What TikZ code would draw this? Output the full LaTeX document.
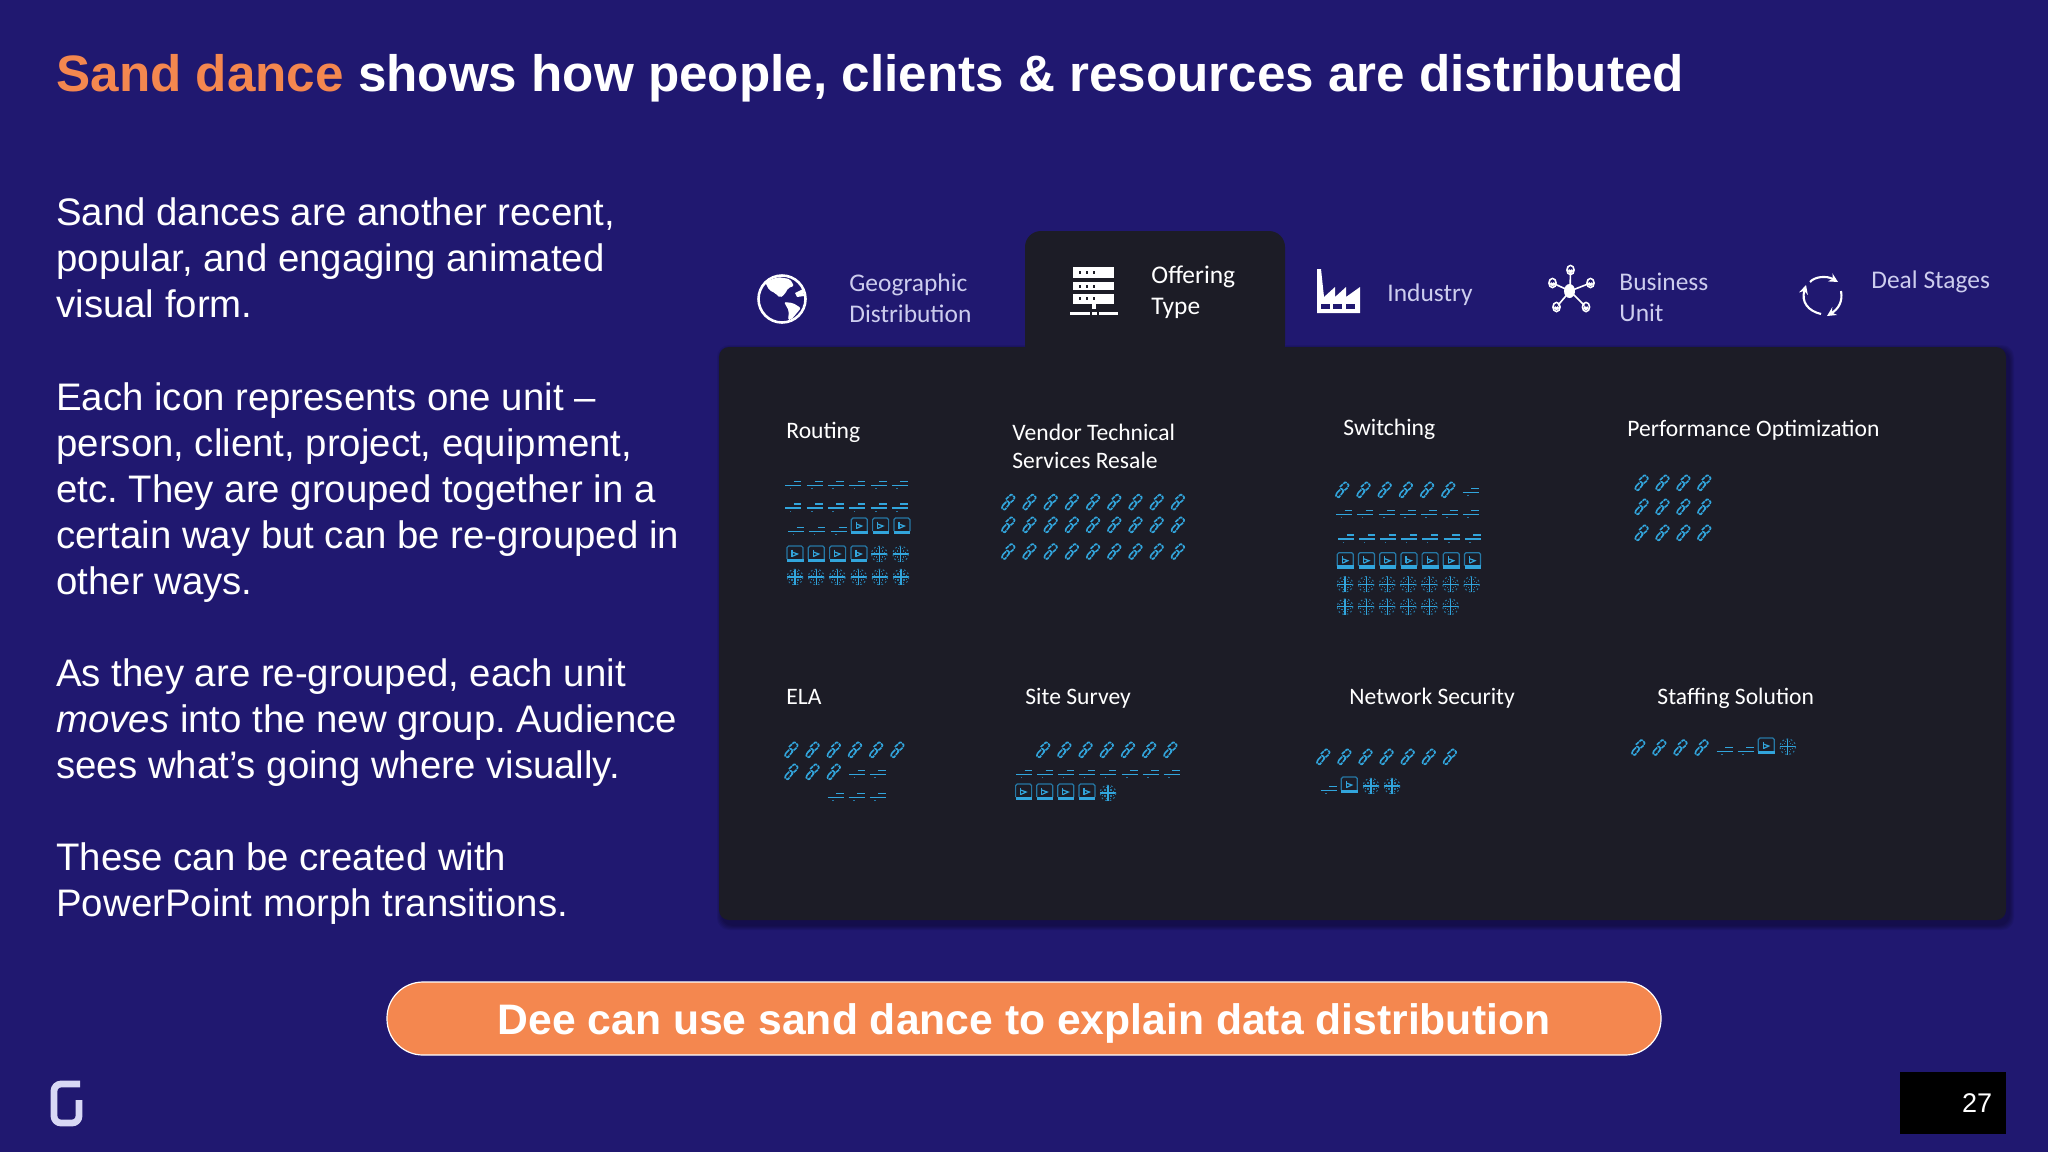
\documentclass[tikz,border=0pt]{standalone}
\usepackage{fontspec}
\setmainfont{Liberation Sans}
\newfontfamily\calib{Carlito}
\usetikzlibrary{arrows.meta}
\definecolor{bgblue}{RGB}{32,24,112}
\definecolor{panelk}{RGB}{28,28,38}
\definecolor{orng}{RGB}{244,135,79}
\definecolor{lav}{RGB}{205,205,238}
\definecolor{logoc}{RGB}{216,216,245}
\definecolor{icb}{RGB}{50,165,220}
\definecolor{icd}{RGB}{38,120,165}
\tikzset{
  x=0.5pt,y=-0.5pt,
  bodytext/.style={anchor=base west,inner sep=0,text=white,align=left,font=\fontsize{19.18}{23}\selectfont},
  tablabel/.style={anchor=base west,inner sep=0,text=lav,align=left,font=\calib\fontsize{12.72}{15.3}\selectfont},
  grouplabel/.style={anchor=base west,inner sep=0,text=white,align=left,font=\calib\fontsize{11.8}{14}\selectfont},
  linkic/.pic={
    \draw[icb,line width=0.8pt,dash pattern=on 2pt off 0.4pt,rounded corners=0.3pt]
      (-5.5,3) -- (-1,-1.5) -- (1.5,1) -- (-3.5,7.5) -- (-6.5,6) -- cycle;
    \draw[icb,line width=0.8pt,dash pattern=on 2pt off 0.4pt,rounded corners=0.3pt]
      (-2.5,-3) -- (3,-8) -- (6.5,-5) -- (5,-2) -- (0,2);
  },
  dashic/.pic={
    \draw[icb,line width=0.75pt] (-8,1.3) -- (8,1.3);
    \draw[icb,line width=0.75pt] (0.5,-2.7) -- (8,-2.7);
    \fill[icd] (-3.5,3.8) rectangle (-2,5.3);
  },
  screenic/.pic={
    \draw[icd,line width=0.6pt,rounded corners=0.8pt] (-8,5) -- (-8,-8) -- (8,-8) -- (8,5);
    \fill[icb] (-8,4.5) rectangle (8.5,8);
    \draw[icb,line width=0.6pt] (-3,-4.5) -- (-3,2.5);
    \draw[icb,line width=0.6pt] (-3,-2) -- (2.5,0) -- (-3,2.5);
  },
  webic/.pic={
    \draw[icb,line width=0.55pt] (0,-8) -- (0,8) (-8,0) -- (8,0);
    \draw[icd,line width=0.5pt,dash pattern=on 0.9pt off 1.3pt] (0,0) circle[radius=7.8];
    \foreach \sx/\sy in {-1/-1,1/-1,-1/1,1/1}{
      \fill[icd] ({\sx*3-0.6},{\sy*3-0.6}) rectangle +(1.2,1.2);
      \fill[icd] ({\sx*5.2-0.5},{\sy*2-0.5}) rectangle +(1,1);
      \fill[icd] ({\sx*2-0.5},{\sy*5.2-0.5}) rectangle +(1,1);
    }
  },
  personic/.pic={
    \draw[white,line width=0.8pt] (0,0) ellipse[x radius=3.6,y radius=4.6];
    \fill[white] (0,1) ellipse[x radius=2.6,y radius=2];
  }
}
% \iconrow{pic}{first x}{pitch}{count}{y}
\newcommand{\iconrow}[5]{%
  \foreach \ii in {1,...,#4}{\pic at ({#2+(\ii-1)*#3},#5) {#1};}%
}
\begin{document}
\frenchspacing
\begin{tikzpicture}
\useasboundingbox (0,0) rectangle (2048,1152);
\fill[bgblue] (0,0) rectangle (2048,1152);

% title
\node[anchor=base west,inner sep=0,font=\fontsize{25.6}{30}\selectfont\bfseries,text=white] (title) at (56,91.5)
  {\textcolor{orng}{Sand dance} shows how people, clients \& resources are distributed};

% left text
\node[bodytext] (para1) at (56,317) {Sand dances are another recent,\\popular, and engaging animated\\visual form.};
\node[bodytext] (para2) at (56,594) {Each icon represents one unit --\\person, client, project, equipment,\\etc. They are grouped together in a\\certain way but can be re-grouped in\\other ways.};
\node[bodytext] (para3) at (56,778) {As they are re-grouped, each unit\\\textit{moves} into the new group. Audience\\sees what’s going where visually.};
\node[bodytext] (para4) at (56,916) {These can be created with\\PowerPoint morph transitions.};

% panel shadow
\foreach \s in {1,...,5}{
  \fill[black,opacity=0.07,rounded corners=6pt] ({719-\s+3},{347-\s+3}) rectangle ({2006+\s+3},{922+\s+3});
}
% panel and active tab
\fill[panelk,rounded corners=5pt] (719,347) rectangle (2006,920);
\fill[panelk,rounded corners=8pt] (1025,360) -- (1025,231) -- (1285,231) -- (1285,360) -- cycle;

% tab labels
\node[tablabel] (tgeo) at (849,322) {Geographic\\Distribution};
\node[tablabel,text=white] (toff) at (1151,314) {Offering\\Type};
\node[tablabel] (tind) at (1387,301) {Industry};
\node[tablabel] (tbus) at (1619,321) {Business\\Unit};
\node[tablabel] (tdeal) at (1871,288) {Deal Stages};

% globe
\begin{scope}[shift={(782,299)}]
  \draw[white,line width=1.3pt] (0,0) circle[radius=23.5];
  \fill[white,rounded corners=1pt] (-17,-17) -- (-4,-22) -- (8,-20) -- (12,-13) -- (6,-11) -- (3,-5) -- (-2,-1) -- (-7,-6) -- (-13,-9) -- cycle;
  \fill[white,rounded corners=1pt] (2,3) -- (11,4) -- (19,9) -- (14,15) -- (9,21) -- (6,21) -- (7,12) -- cycle;
  \fill[white] (13,-6) -- (21,-10) -- (22,-3) -- (15,-2) -- cycle;
\end{scope}

% server
\fill[white] (1073,267) rectangle (1114,278);
\fill[white] (1073,282) rectangle (1114,290);
\fill[white] (1073,294) rectangle (1114,304);
\fill[white] (1092,304) rectangle (1096,309);
\fill[white] (1070,312) rectangle (1090,314.5);
\fill[white] (1092,312) rectangle (1097,314.5);
\fill[white] (1099,312) rectangle (1118,314.5);
\foreach \yy in {272,286,298}{
  \foreach \xx in {1079,1086,1093}{ \fill[panelk] (\xx,\yy-1.5) rectangle +(2,3); }
}

% factory
\fill[white] (1317,313) -- (1317,269) -- (1321,269) -- (1324,297) -- (1335,287) -- (1335,297) -- (1346,287) -- (1346,297) -- (1360,287) -- (1360,313) -- cycle;
\foreach \xx in {1321,1333,1346}{ \fill[bgblue] (\xx,303.5) rectangle +(9,5); }

% business unit
\begin{scope}
  \draw[white,line width=0.8pt] (1570,291) -- (1570.5,270) (1570,291) -- (1552.5,283) (1570,291) -- (1590.5,283) (1570,291) -- (1556.5,307) (1570,291) -- (1586,307);
  \fill[white] (1569.5,291) ellipse[x radius=5.5,y radius=7];
  \foreach \xx/\yy in {1570.5/270,1552.5/283,1590.5/283,1556.5/307,1586/307}{
    \pic at (\xx,\yy) {personic};
    \fill[bgblue] (\xx,\yy-1.7) circle[radius=1.7];
  }
\end{scope}

% deal stages
\begin{scope}[line width=1.05pt,white]
  \draw[-{Stealth[length=4.5pt,width=4.5pt]}] (1810,282) .. controls (1814,277) and (1826,275) .. (1838,282);
  \draw[-{Stealth[length=4.5pt,width=4.5pt]}] (1841,291) .. controls (1843,302) and (1838,309) .. (1827,316);
  \draw[-{Stealth[length=4.5pt,width=4.5pt]}] (1821,314) .. controls (1808,311) and (1801,302) .. (1806,285);
\end{scope}

% group labels
\node[grouplabel] (lrout) at (786,438) {Routing};
\node[grouplabel] (lvend) at (1012,468) {Vendor Technical\\Services Resale};
\node[grouplabel] (lswit) at (1343,435) {Switching};
\node[grouplabel] (lperf) at (1627,436) {Performance Optimization};
\node[grouplabel] (lela) at (786,704) {ELA};
\node[grouplabel] (lsite) at (1025,704) {Site Survey};
\node[grouplabel] (lnet) at (1349,704) {Network Security};
\node[grouplabel] (lstaf) at (1657,704) {Staffing Solution};

% Routing
\iconrow{dashic}{793.3}{21.3}{6}{484}
\iconrow{dashic}{793.3}{21.3}{6}{506.7}
\iconrow{dashic}{796}{21.3}{3}{530}
\iconrow{screenic}{859.3}{21.3}{3}{526}
\iconrow{screenic}{795}{21.3}{4}{554}
\iconrow{webic}{879.3}{21.3}{2}{554}
\iconrow{webic}{795}{21.2}{6}{577}

% Vendor
\iconrow{linkic}{1008.3}{21.2}{9}{502.3}
\iconrow{linkic}{1008.3}{21.2}{9}{525}
\iconrow{linkic}{1008.3}{21.2}{9}{551.7}

% Switching
\iconrow{linkic}{1342.3}{21.2}{6}{490}
\pic at (1470.7,491) {dashic};
\iconrow{dashic}{1344.3}{21.1}{7}{513}
\iconrow{dashic}{1346}{21.1}{7}{537.7}
\iconrow{screenic}{1345.3}{21.2}{7}{560.7}
\iconrow{webic}{1345}{21.1}{7}{584.3}
\iconrow{webic}{1345}{21.1}{6}{606.7}

% Performance
\iconrow{linkic}{1641.6}{20.9}{4}{483}
\iconrow{linkic}{1641.6}{20.9}{4}{507}
\iconrow{linkic}{1641.6}{20.9}{4}{533}

% ELA
\iconrow{linkic}{791.4}{21.2}{6}{750}
\iconrow{linkic}{791.4}{21.2}{3}{772}
\iconrow{dashic}{857}{20.8}{2}{773}
\iconrow{dashic}{835.6}{21}{3}{796}

% Site survey
\iconrow{linkic}{1043.2}{21.2}{7}{750}
\iconrow{dashic}{1024}{21.1}{8}{773}
\iconrow{screenic}{1023.6}{21.1}{4}{792}
\pic at (1108,793) {webic};

% Network security
\iconrow{linkic}{1323.3}{21.1}{7}{757}
\pic at (1328.7,789) {dashic};
\pic at (1349.3,785) {screenic};
\iconrow{webic}{1371}{21}{2}{786}

% Staffing
\iconrow{linkic}{1638.3}{21.1}{4}{747.7}
\iconrow{dashic}{1724.7}{21}{2}{750}
\pic at (1766.3,746) {screenic};
\pic at (1787.7,746.7) {webic};

% pill
\node[draw=white,line width=0.6pt,fill=orng,rounded corners=18pt,minimum width=637pt,minimum height=36.5pt,inner sep=0,
  font=\fontsize{21.33}{26}\selectfont\bfseries,text=white] (pill) at (1024,1018.5) {\raisebox{-2.6pt}[\height][\depth]{Dee can use sand dance to explain data distribution}};

% page number box
\fill[black] (1900,1072) rectangle (2006,1134);
\node[inner sep=0,text=white,font=\fontsize{13.5}{16}\selectfont] (pnum) at (1977,1103) {27};

% logo
\draw[logoc,line width=3.4pt,line join=round,rounded corners=3.5pt] (80,1084) -- (54,1084) -- (54,1123) -- (79,1123) -- (79,1100);
\end{tikzpicture}
\end{document}
